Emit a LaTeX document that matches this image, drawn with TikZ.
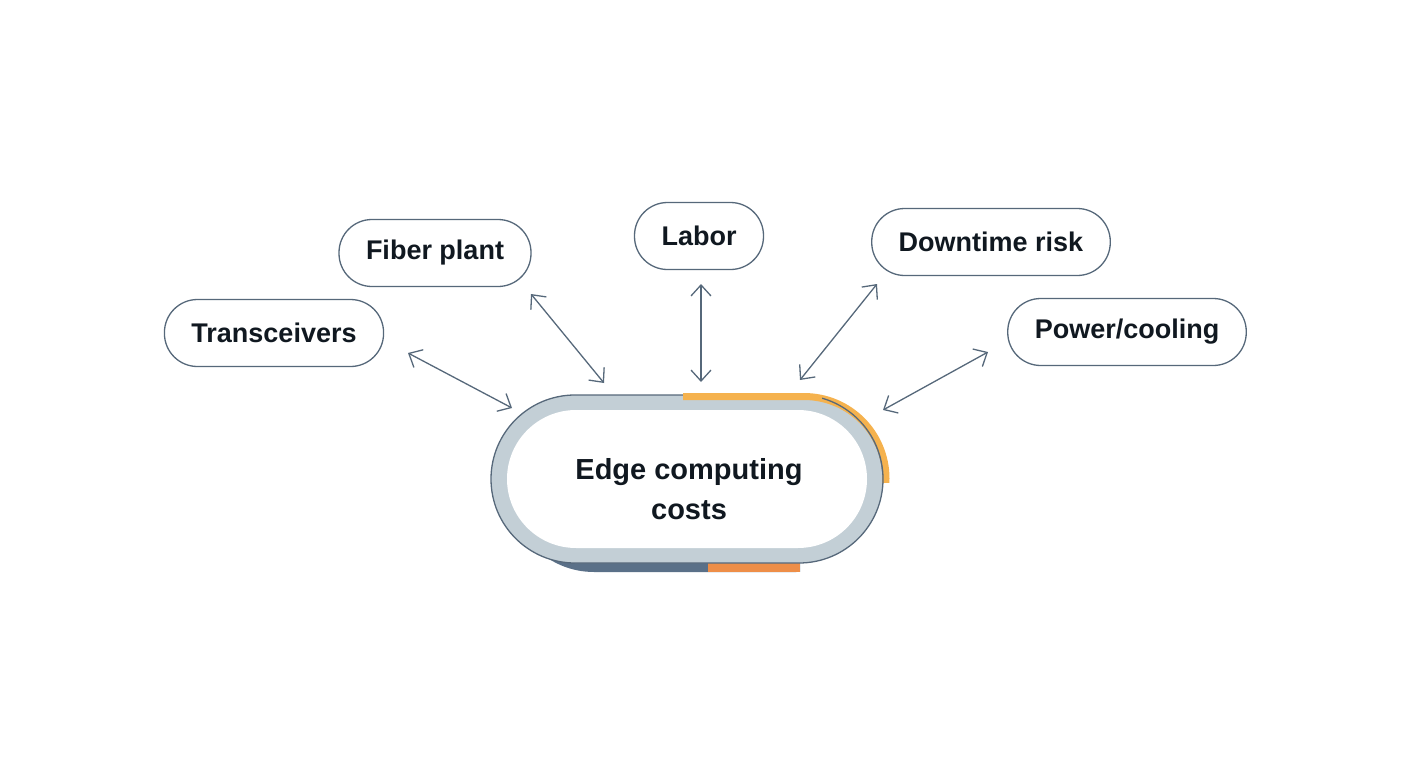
\documentclass[tikz,border=0pt]{standalone}
\usepackage{fontspec}
\setmainfont{Liberation Sans}
\usetikzlibrary{arrows.meta}
\definecolor{edge}{HTML}{56687A}
\definecolor{ring}{HTML}{C3CFD6}
\definecolor{shad}{HTML}{5A7088}
\definecolor{org}{HTML}{F5B24E}
\definecolor{org2}{HTML}{EE8E48}
\definecolor{txt}{HTML}{101820}
\begin{document}
\begin{tikzpicture}[x=1pt,y=-1pt,
  box/.style={draw=edge,line width=1.3pt,rounded corners=33pt,fill=white,minimum height=67pt,inner xsep=27pt,font=\fontsize{27}{34}\selectfont\bfseries,text=txt},
  arr/.style={draw=edge,line width=1.3pt,{Straight Barb[length=11pt,width=20pt]}-{Straight Barb[length=11pt,width=20pt]}}]
\useasboundingbox (0,0) rectangle (1408,768);
% shadow
\begin{scope}
\clip (0,480) rectangle (800,600);
\fill[shad,rounded corners=84pt] (510,405) rectangle (880,572);
\end{scope}
\fill[org2] (708,556) rectangle (800,572);
% main ring
\filldraw[fill=ring,draw=edge,line width=1.3pt,rounded corners=84pt] (491,395) rectangle (883,563);
\begin{scope}
\clip (683,380) rectangle (900,482);
\draw[org,line width=7pt,rounded corners=82pt] (600,396.5) rectangle (886,560);
\end{scope}
\begin{scope}
\clip (822,380) rectangle (900,482);
\draw[edge,line width=1.3pt,rounded corners=84pt] (491,395) rectangle (883,563);
\end{scope}
\fill[white,rounded corners=69pt] (507,410) rectangle (867,548);
\node[align=center,font=\fontsize{29}{40}\selectfont\bfseries,text=txt] (c) at (689,489) {Edge computing\\costs};
\node[box] (t) at (274,333) {Transceivers};
\node[box] (f) at (435,253) {Fiber plant};
\node[box] (l) at (699,236) {Labor};
\node[box] (d) at (991,242) {Downtime risk};
\node[box] (p) at (1127,332) {Power/cooling};
\coordinate (t1) at (408,353); \coordinate (t2) at (512,408);
\coordinate (f1) at (531,294); \coordinate (f2) at (604,383);
\coordinate (l1) at (701,284); \coordinate (l2) at (701,382);
\coordinate (d1) at (877,284); \coordinate (d2) at (800,380);
\coordinate (p1) at (988,352); \coordinate (p2) at (883,410);
\draw[arr] (t1) -- (t2);
\draw[arr] (f1) -- (f2);
\draw[arr] (l1) -- (l2);
\draw[arr] (d1) -- (d2);
\draw[arr] (p1) -- (p2);
\end{tikzpicture}
\end{document}
